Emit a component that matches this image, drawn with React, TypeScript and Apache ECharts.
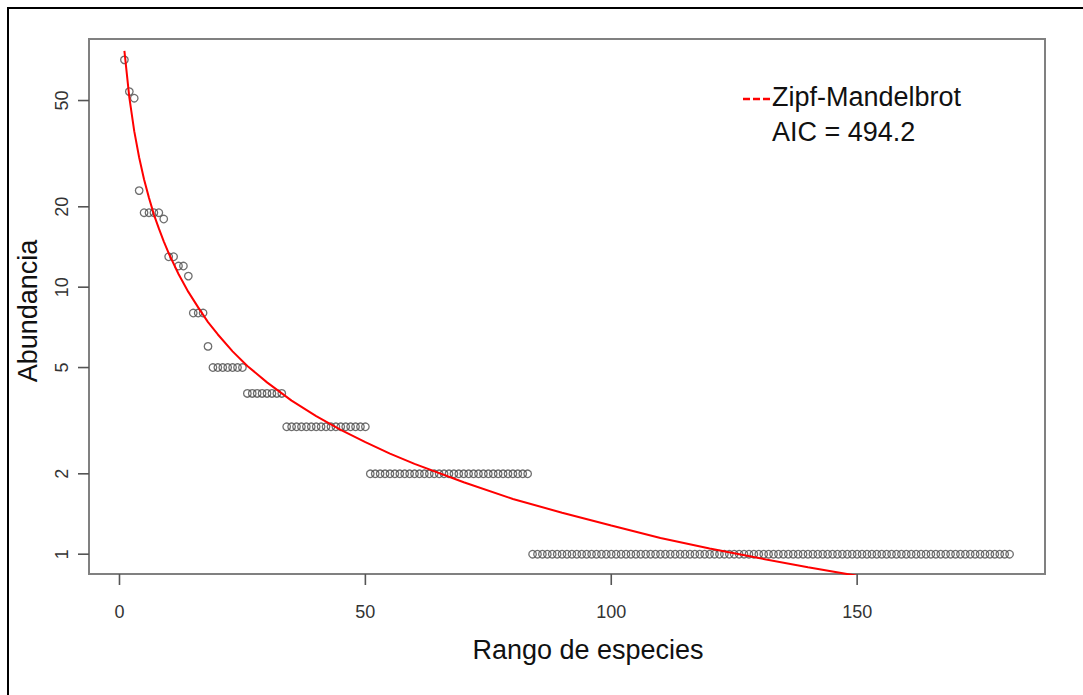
import React, { useEffect, useRef } from "react";
import * as echarts from "echarts";

// Observed abundances, stored as runs (value, number of consecutive ranks)
const runValues = [71, 54, 51, 23, 19, 18, 13, 12, 11, 8, 6, 5, 4, 3, 2, 1];
const runCounts = [1, 1, 1, 1, 4, 1, 2, 2, 1, 3, 1, 7, 8, 17, 33, 98];

// Fitted Zipf-Mandelbrot curve (rank, abundance)
const fitRanks = [1, 2, 3, 4, 5, 6, 7, 8, 9, 10, 12, 14, 16, 18, 20, 23, 26, 30, 35, 40, 45, 50, 55, 60, 70, 80, 90, 100, 110, 120, 130, 140, 150];
const fitValues = [76.7, 51.4, 38.4, 30.6, 25.3, 21.6, 18.7, 16.6, 14.85, 13.4, 11.2, 9.6, 8.4, 7.4, 6.65, 5.75, 5.07, 4.4, 3.76, 3.29, 2.92, 2.63, 2.38, 2.18, 1.86, 1.61, 1.43, 1.28, 1.15, 1.05, 0.967, 0.894, 0.83];

const xTicks = [0, 50, 100, 150];
const yTicks = [1, 2, 5, 10, 20, 50];

const legendLabel = "Zipf-Mandelbrot";
const aicLabel = "AIC = 494.2";
const xTitle = "Rango de especies";
const yTitle = "Abundancia";

const X_MIN = -6.2;
const X_MAX = 188.2;
const Y_MIN = 0.843;
const Y_MAX = 85;

const W = 1083;
const H = 695;
const G_LEFT = 89;
const G_RIGHT = 38;
const G_TOP = 39;
const G_BOTTOM = 121;

const FONT = "'Liberation Sans', Arial, sans-serif";
const TICK_LEN = 11;

export default function App() {
  const ref = useRef<HTMLDivElement>(null);
  useEffect(() => {
    if (!ref.current) return;
    const chart = echarts.init(ref.current, null, { renderer: "svg" });

    const points: number[][] = [];
    let rank = 1;
    runValues.forEach((v, i) => {
      for (let k = 0; k < runCounts[i]; k++) {
        points.push([rank, v]);
        rank++;
      }
    });
    const fit = fitRanks.map((r, i) => [r, fitValues[i]]);

    // axis furniture: tick marks just outside the plotting area
    const gw = W - G_LEFT - G_RIGHT;
    const gh = H - G_TOP - G_BOTTOM;
    const gBottom = G_TOP + gh;
    const xPix = (v: number) => G_LEFT + ((v - X_MIN) / (X_MAX - X_MIN)) * gw;
    const yPix = (v: number) =>
      G_TOP + (gh * (Math.log10(Y_MAX) - Math.log10(v))) / (Math.log10(Y_MAX) - Math.log10(Y_MIN));
    const tickEls: any[] = [];
    xTicks.forEach((v) => {
      const px = xPix(v);
      tickEls.push({
        type: "rect",
        z: 100,
        shape: { x: px - 0.8, y: gBottom, width: 1.6, height: TICK_LEN },
        style: { fill: "#555555" },
      });
    });
    yTicks.forEach((v) => {
      const py = yPix(v);
      tickEls.push({
        type: "rect",
        z: 100,
        shape: { x: G_LEFT - TICK_LEN, y: py - 0.8, width: TICK_LEN, height: 1.6 },
        style: { fill: "#555555" },
      });
    });

    chart.setOption({
      animation: false,
      backgroundColor: "#ffffff",
      grid: {
        left: G_LEFT,
        right: G_RIGHT,
        top: G_TOP,
        bottom: G_BOTTOM,
        show: true,
        borderColor: "#808080",
        borderWidth: 2,
        backgroundColor: "transparent",
      },
      xAxis: {
        type: "value",
        min: X_MIN,
        max: X_MAX,
        splitLine: { show: false },
        axisLine: { show: false, onZero: false },
        axisTick: { show: false },
        axisLabel: {
          customValues: xTicks,
          margin: 29,
          fontSize: 18,
          color: "#333",
          fontFamily: FONT,
        },
      },
      yAxis: {
        type: "log",
        logBase: 10,
        min: Y_MIN,
        max: Y_MAX,
        splitLine: { show: false },
        axisLine: { show: false, onZero: false },
        axisTick: { show: false },
        axisLabel: {
          customValues: yTicks,
          rotate: 90,
          margin: 18,
          fontSize: 18,
          color: "#333",
          fontFamily: FONT,
          formatter: (v: number) => String(Math.round(v)),
        },
      },
      series: [
        {
          type: "scatter",
          data: points,
          symbol: "circle",
          symbolSize: 7.5,
          itemStyle: { color: "rgba(0,0,0,0)", borderColor: "#4a4a4a", borderWidth: 1.3 },
          silent: true,
        },
        {
          type: "line",
          data: fit,
          showSymbol: false,
          smooth: false,
          clip: true,
          lineStyle: { color: "#ff0000", width: 2 },
          silent: true,
        },
      ],
      graphic: {
        elements: [
          {
            type: "rect",
            shape: { x: 8, y: 8, width: 1200, height: 1000 },
            style: { fill: "none", stroke: "#000", lineWidth: 2 },
            silent: true,
          },
          ...tickEls,
          {
            type: "text",
            x: 588,
            y: 650,
            style: {
              text: xTitle,
              font: `27px ${FONT}`,
              fill: "#111",
              textAlign: "center",
              textVerticalAlign: "middle",
            },
          },
          {
            type: "text",
            x: 28,
            y: 311,
            rotation: Math.PI / 2,
            style: {
              text: yTitle,
              font: `27px ${FONT}`,
              fill: "#111",
              textAlign: "center",
              textVerticalAlign: "middle",
            },
          },
          {
            type: "line",
            shape: { x1: 743, y1: 99, x2: 770, y2: 99 },
            style: { stroke: "#ff0000", lineWidth: 2.5, lineDash: [7, 3] },
          },
          {
            type: "text",
            x: 772,
            y: 97,
            style: {
              text: legendLabel,
              font: `27px ${FONT}`,
              fill: "#111",
              textAlign: "left",
              textVerticalAlign: "middle",
            },
          },
          {
            type: "text",
            x: 772,
            y: 132,
            style: {
              text: aicLabel,
              font: `27px ${FONT}`,
              fill: "#111",
              textAlign: "left",
              textVerticalAlign: "middle",
            },
          },
        ],
      },
    });
    return () => chart.dispose();
  }, []);

  return (
    <div
      ref={ref}
      style={{ position: "absolute", left: 0, top: 0, width: W, height: H }}
    />
  );
}
